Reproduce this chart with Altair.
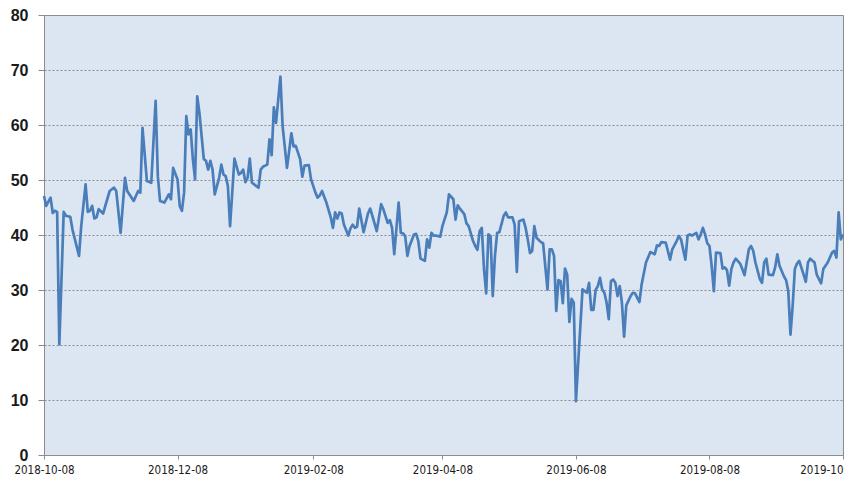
import altair as alt
import pandas as pd

# Day offsets from 2018-10-08 and values
day_offsets = [
    0, 1, 3, 4, 5, 6, 7, 9, 10, 12, 13, 16, 17, 19, 20, 21, 22, 23, 24, 25,
    27, 28, 30, 32, 33, 35, 37, 38, 41, 43, 44, 45, 47, 49, 51, 52, 53, 55, 57, 58,
    59, 61, 62, 63, 64, 65, 66, 67, 68, 69, 70, 71, 73, 74, 75, 76, 77, 78, 80, 81,
    82, 83, 84, 85, 87, 89, 90, 91, 92, 93, 94, 95, 97, 98, 99, 100, 102, 103, 104, 105,
    106, 108, 109, 111, 112, 113, 114, 115, 117, 118, 119, 121, 122, 124, 125, 126, 127, 129, 131, 132,
    133, 134, 135, 136, 137, 139, 140, 141, 142, 143, 144, 146, 147, 148, 149, 150, 152, 154, 155, 157,
    158, 159, 160, 162, 163, 164, 165, 166, 167, 169, 170, 171, 172, 174, 175, 176, 177, 178, 179, 181,
    182, 184, 185, 187, 188, 189, 190, 192, 193, 194, 196, 197, 198, 199, 200, 201, 202, 203, 204, 205,
    206, 207, 208, 210, 211, 212, 214, 215, 216, 217, 219, 220, 221, 222, 223, 224, 225, 227, 228, 230,
    231, 232, 233, 234, 235, 236, 237, 238, 239, 240, 241, 242, 243, 246, 247, 248, 249, 250, 251, 252,
    253, 254, 255, 256, 257, 258, 259, 260, 261, 262, 263, 264, 265, 266, 268, 269, 270, 272, 273, 274,
    275, 277, 278, 279, 280, 281, 282, 284, 285, 286, 287, 289, 290, 291, 293, 294, 295, 296, 298, 299,
    300, 301, 302, 303, 304, 305, 306, 307, 309, 310, 311, 312, 313, 314, 315, 316, 318, 319, 320, 322,
    323, 324, 325, 327, 328, 329, 330, 331, 333, 334, 335, 336, 338, 339, 340, 341, 342, 343, 344, 345,
    347, 348, 349, 350, 352, 353, 355, 356, 358, 360, 361, 362, 363, 364, 365,
]
values = [
    47.1, 45.3, 46.8, 44.0, 44.4, 44.2, 20.1, 44.2, 43.5, 43.3, 41.0, 36.2, 41.6, 49.2, 44.2, 44.4, 45.3, 43.0, 43.2, 44.7,
    43.9, 45.3, 48.0, 48.6, 48.0, 40.4, 50.4, 48.0, 46.2, 48.0, 47.7, 59.5, 49.8, 49.5, 64.4, 50.7, 46.2, 45.9, 47.4, 46.5,
    52.2, 50.1, 45.3, 44.4, 47.7, 61.6, 58.3, 59.2, 53.8, 50.1, 65.2, 62.2, 53.8, 53.5, 51.9, 53.5, 51.9, 47.4, 50.4, 52.8,
    51.0, 50.7, 48.9, 41.6, 53.9, 51.0, 51.3, 51.9, 49.6, 50.4, 53.9, 49.5, 48.9, 48.6, 51.9, 52.4, 52.8, 57.4, 54.5, 63.2,
    60.4, 68.8, 59.8, 52.2, 55.3, 58.5, 56.1, 56.2, 53.8, 50.6, 52.6, 52.7, 50.1, 47.7, 46.8, 47.2, 48.0, 45.9, 43.2, 41.3,
    44.1, 43.0, 44.1, 43.9, 41.9, 39.9, 41.2, 41.9, 41.3, 41.5, 44.8, 40.5, 42.2, 43.9, 44.8, 43.5, 40.7, 45.6, 44.7, 42.2,
    42.7, 41.3, 36.5, 45.9, 40.4, 40.3, 39.8, 36.2, 38.0, 40.1, 40.2, 38.9, 35.7, 35.3, 39.2, 37.7, 40.4, 39.9, 39.9, 39.7,
    41.6, 44.1, 47.4, 46.5, 42.8, 45.4, 44.8, 43.8, 42.1, 41.6, 38.9, 38.0, 37.3, 40.7, 41.3, 33.8, 29.4, 40.1, 39.8, 28.9,
    36.2, 40.4, 40.5, 43.5, 44.1, 43.2, 43.2, 41.9, 33.3, 42.5, 42.8, 41.3, 39.2, 36.7, 37.1, 41.6, 39.5, 38.7, 38.5, 30.1,
    37.4, 37.4, 36.2, 26.2, 31.8, 31.6, 27.6, 33.9, 32.8, 24.2, 28.4, 27.7, 9.8, 30.1, 29.8, 29.5, 31.3, 26.4, 26.4, 30.0,
    30.7, 32.2, 30.1, 29.5, 27.7, 24.7, 31.6, 31.9, 31.3, 28.9, 30.7, 27.7, 21.5, 27.2, 28.9, 29.5, 29.4, 27.8, 31.0, 33.0,
    35.0, 36.9, 36.7, 36.5, 38.1, 38.0, 38.7, 38.6, 37.1, 35.5, 37.4, 38.9, 39.8, 39.2, 35.5, 39.9, 40.1, 39.9, 40.4, 39.2,
    40.1, 41.3, 40.1, 38.5, 38.0, 34.4, 29.8, 36.8, 36.7, 33.9, 34.1, 33.6, 30.8, 33.8, 35.0, 35.7, 34.8, 33.8, 32.7, 37.4,
    38.0, 37.1, 35.0, 32.0, 31.3, 35.0, 35.7, 32.8, 32.7, 34.1, 36.5, 34.4, 32.5, 31.8, 29.8, 21.9, 27.1, 33.8, 34.8, 35.3,
    32.8, 31.5, 35.0, 35.7, 35.0, 32.8, 31.2, 33.8, 35.0, 36.8, 37.1, 35.9, 44.1, 39.2, 40.1,
]
start_date = "2018-10-08"
tick_dates = ["2018-10-08", "2018-12-08", "2019-02-08", "2019-04-08",
              "2019-06-08", "2019-08-08", "2019-10-08"]
y_ticks = [0, 10, 20, 30, 40, 50, 60, 70, 80]

base = pd.Timestamp(start_date)
df = pd.DataFrame({
    "date": [(base + pd.Timedelta(days=d)).strftime("%Y-%m-%dT00:00:00") for d in day_offsets],
    "value": values,
})


def dt(s):
    y, m, d = (int(p) for p in s.split("-"))
    return alt.DateTime(year=y, month=m, date=d)


chart = alt.Chart(df).mark_line(
    color="#4A7EBB", strokeWidth=2.7, strokeJoin="round"
).encode(
    x=alt.X(
        "date:T",
        scale=alt.Scale(domain=[dt(tick_dates[0]), dt(tick_dates[-1])], nice=False),
        axis=alt.Axis(
            values=[dt(s) for s in tick_dates],
            format="%Y-%m-%d",
            labelExpr="datum.index == 1 ? slice(datum.label, 0, 7) : datum.label",
            labelAlign={"condition": {"test": "datum.index == 1", "value": "right"},
                        "value": "center"},
            title=None,
            grid=False,
            domainColor="#8C8C8C",
            tickColor="#8C8C8C",
            tickSize=4,
            labelFont="DejaVu Sans Condensed",
            labelFontSize=11.5,
            labelColor="#1A1A1A",
            labelPadding=5,
            labelOverlap=False,
            labelFlush=False,
        ),
    ),
    y=alt.Y(
        "value:Q",
        scale=alt.Scale(domain=[0, 80], nice=False),
        axis=alt.Axis(
            values=y_ticks,
            title=None,
            grid=True,
            gridColor="#8C8C8C",
            gridDash=[2, 2],
            gridWidth=1,
            domainColor="#8C8C8C",
            tickColor="#8C8C8C",
            tickSize=6,
            labelFont="Liberation Sans",
            labelFontSize=16,
            labelFontWeight="bold",
            labelColor="#1A1A1A",
            labelPadding=10,
        ),
    ),
).properties(
    width=799,
    height=440,
    background="white",
    autosize=alt.AutoSizeParams(type="none"),
    padding={"left": 36, "top": 7, "right": 6, "bottom": 23},
).configure_view(
    fill="#DCE6F2",
    stroke="#8C8C8C",
    strokeWidth=1,
)

chart.save("out.html", embed_options={"renderer": "svg", "actions": False})
